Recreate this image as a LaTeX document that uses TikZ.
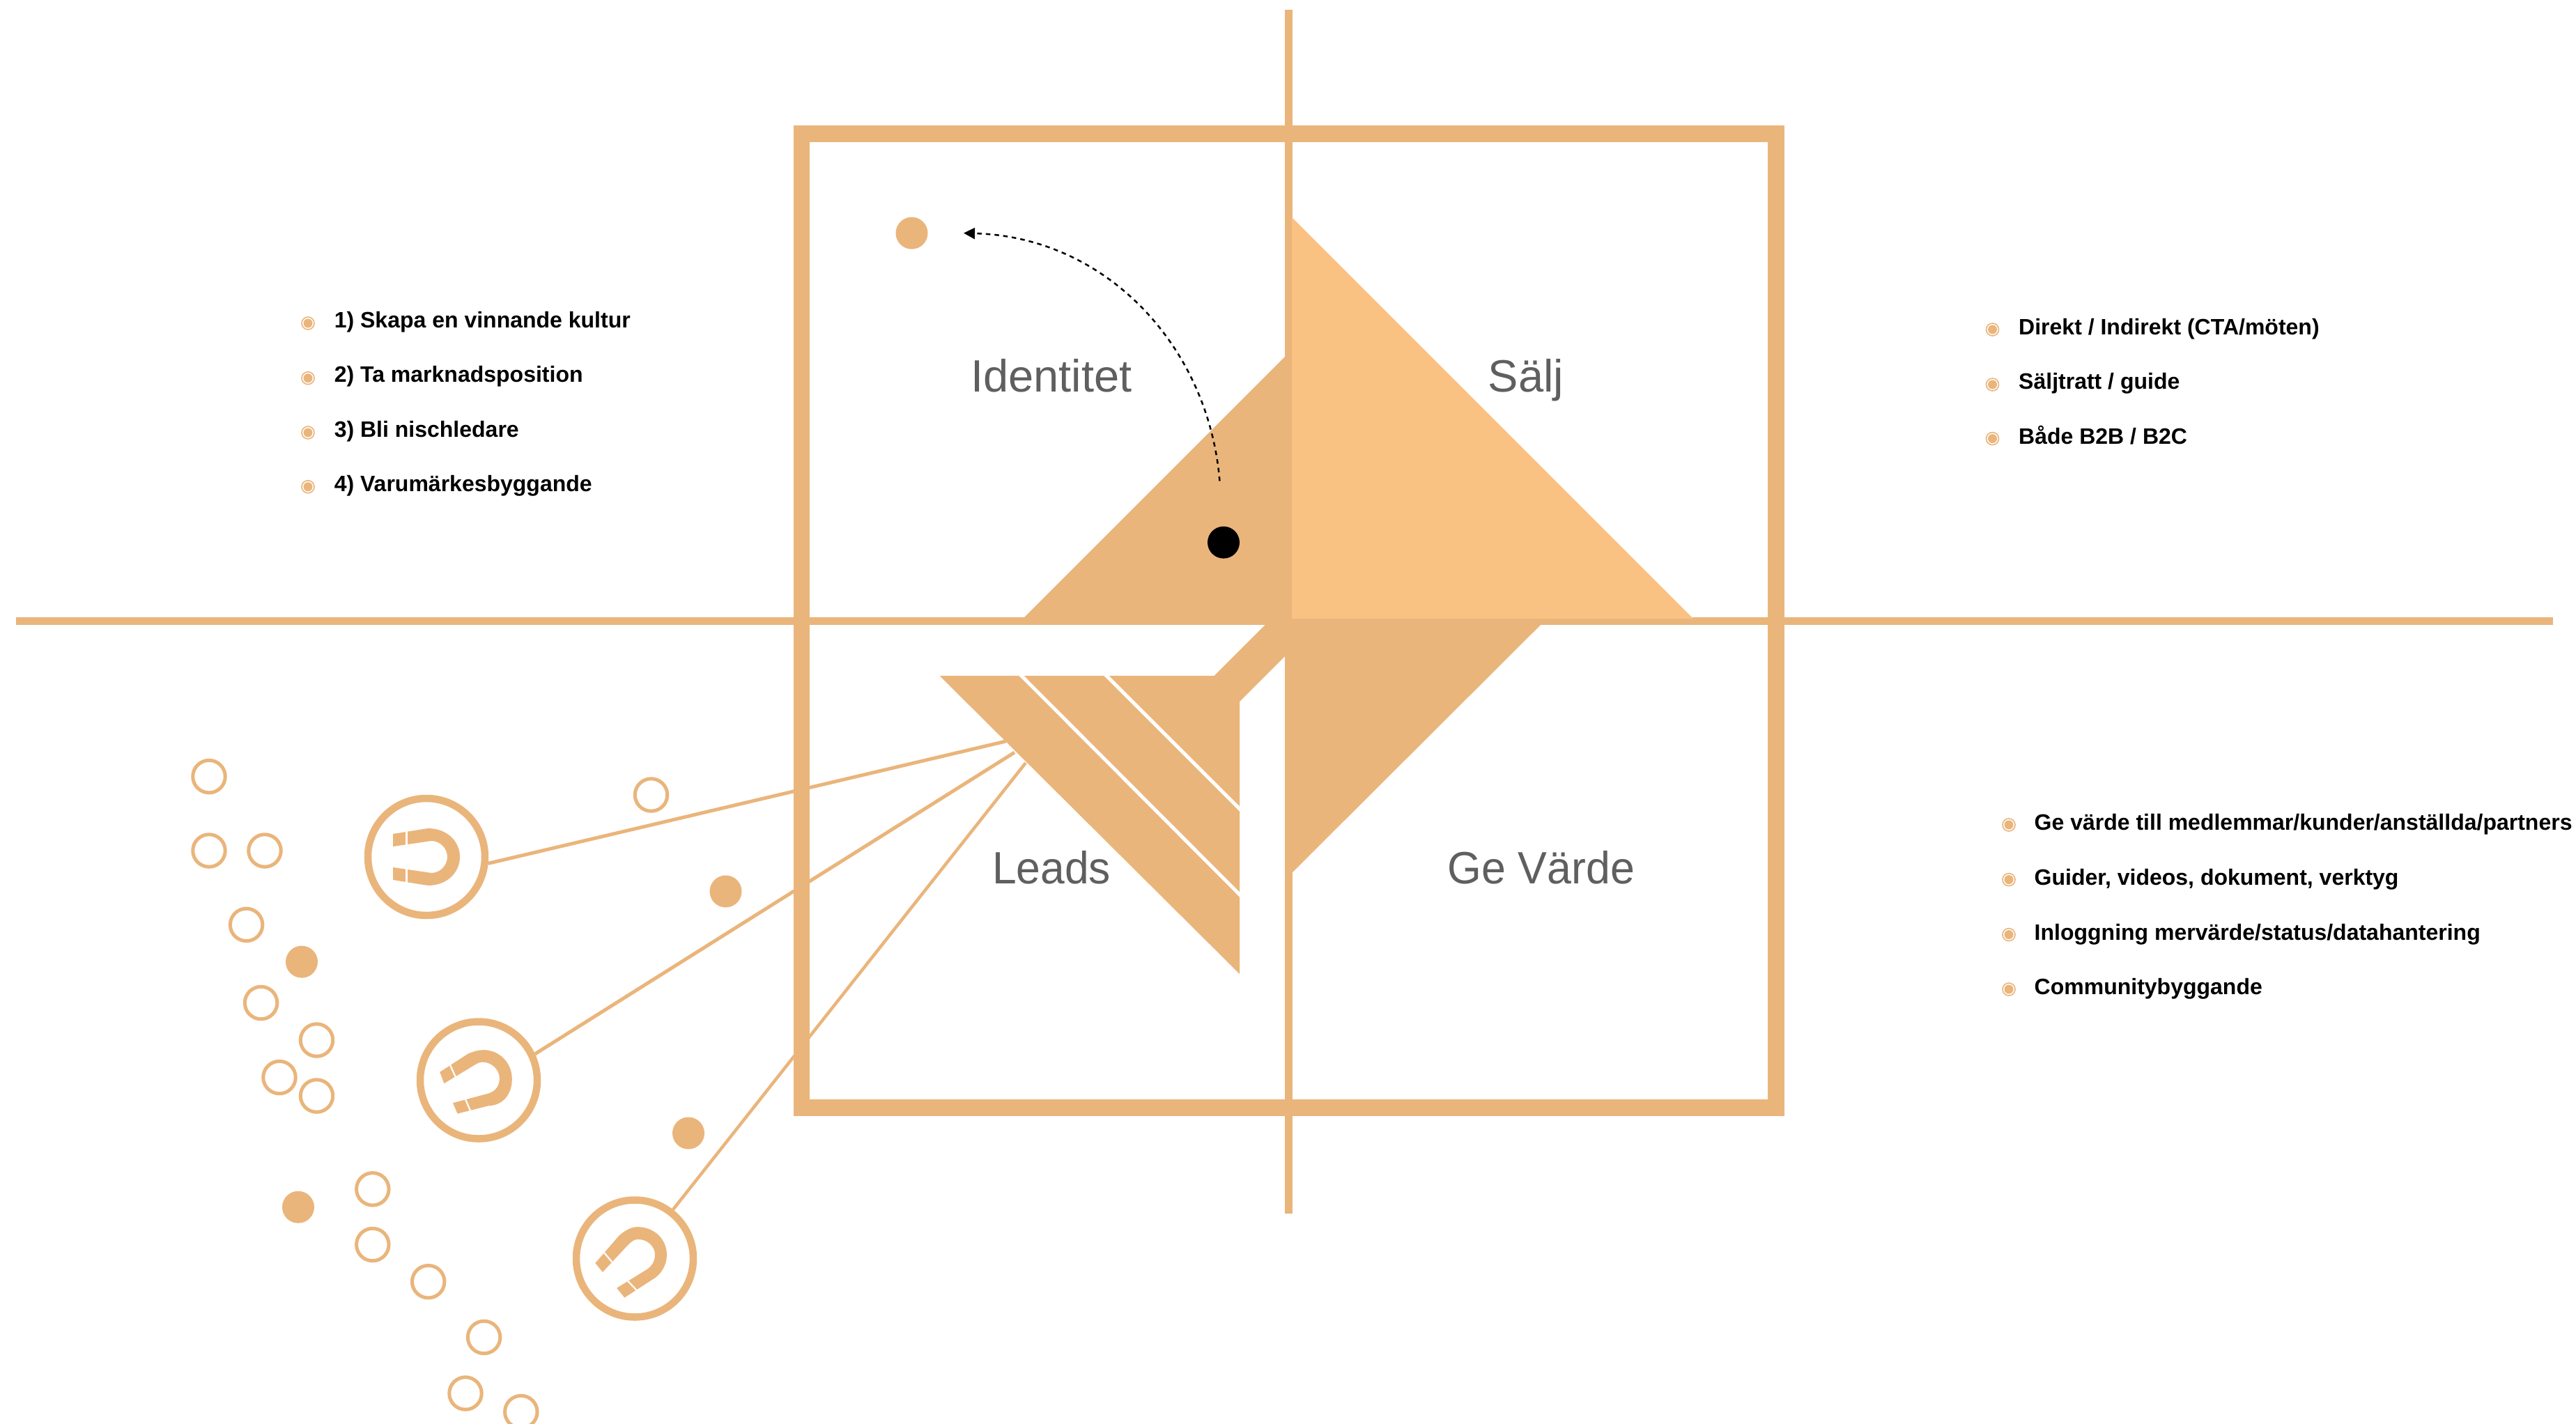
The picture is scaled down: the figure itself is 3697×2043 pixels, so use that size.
\documentclass[tikz,border=0pt]{standalone}
\usepackage{fontspec}
\usepackage{graphicx}
\setmainfont{Liberation Sans}
\usetikzlibrary{arrows.meta}
\definecolor{tan}{HTML}{EAB57B}
\definecolor{lighttan}{HTML}{F9C283}
\definecolor{labelgray}{HTML}{5F5F5F}
\tikzset{
  bar/.style={draw=tan,line width=11pt},
  frameline/.style={draw=tan,line width=23.8pt},
  leadline/.style={draw=tan,line width=5pt},
  slit/.style={draw=white,line width=5pt},
  magslit/.style={draw=white,line width=2.2pt},
  magring/.style={circle,draw=tan,line width=10.5pt,fill=white,minimum size=168pt,inner sep=0pt},
  opencirc/.style={circle,draw=tan,line width=5pt,minimum size=46.5pt,inner sep=0pt},
  soliddot/.style={circle,fill=tan,minimum size=46pt,inner sep=0pt},
  blackdot/.style={circle,fill=black,minimum size=46pt,inner sep=0pt},
  quadlabel/.style={anchor=base,text=labelgray,font=\fontsize{65}{70}\selectfont,inner sep=0pt},
  listitem/.style={anchor=base west,text=black,font=\fontsize{32}{36}\selectfont\bfseries,inner sep=0pt},
  pathdash/.style={draw=black,line width=2.5pt,dash pattern=on 6.5pt off 6pt,-{Triangle[length=16pt,width=16pt]}},
}
\newcommand{\bulletmark}[2]{%
  \draw[tan,line width=1.6pt] (#1,#2) circle[radius=9pt];
  \fill[tan] (#1,#2) circle[radius=6.5pt];
}
\begin{document}
\begin{tikzpicture}[x=1pt,y=-1pt]
\useasboundingbox (0,0) rectangle (3697,2043);
\fill[white] (0,0) rectangle (3697,2043);

% frame and axes
\draw[frameline] (1150.5,191.6) rectangle (2549,1590);
\coordinate (vt) at (1849.5,14);
\coordinate (vb) at (1849.5,1742);
\coordinate (hl) at (23,891);
\coordinate (hr) at (3664,891);
\draw[bar] (vt) -- (vb);
\draw[bar] (hl) -- (hr);

% lead lines and magnets
\coordinate (f1) at (1443.5,1064);
\coordinate (f2) at (1456,1080);
\coordinate (f3) at (1472,1095);
\node[magring] (m1) at (612,1230) {};
\node[magring] (m2) at (687,1550.5) {};
\node[magring] (m3) at (911,1806.5) {};
\draw[leadline] (m1.-6) -- (f1);
\draw[leadline] (m2.25) -- (f2);
\draw[leadline,line width=4.5pt] (m3.52) -- (f3);

% triangles
\fill[tan] (1470,886) -- (1850,506) -- (1855,506) -- (1855,896) -- (1470,896) -- cycle;
\fill[tan] (1850,885) -- (2212,885) -- (2212,896) -- (1855,1252) -- (1850,1252) -- cycle;
\fill[lighttan] (1854,312) -- (2430,888) -- (1854,888) -- cycle;

% funnel
\fill[tan] (1348.5,970) -- (1742.6,970) -- (1816.6,896) -- (1846,896) -- (1846,940) -- (1779,1007) -- (1779,1398) -- cycle;
\draw[slit] (1461,965) -- (1784,1289);
\draw[slit] (1583,965) -- (1784,1166);

% magnet 1
\begin{scope}[shift={(m1.center)}]
\fill[tan] (-48,-33) -- (2,-41) .. controls (30,-41) and (48,-22) .. (48,0)
  .. controls (48,22) and (30,41) .. (2,41) -- (-48,33) -- (-48,15) -- (7,23)
  .. controls (20,23) and (30,12) .. (30,0) .. controls (30,-12) and (20,-23) .. (7,-23)
  -- (-48,-15) -- cycle;
\draw[magslit] (-28.5,-40) -- (-28.5,-10);
\draw[magslit] (-28.5,10) -- (-28.5,40);
\end{scope}
% magnet 2
\begin{scope}[shift={(m2.center)}]
\fill[tan] (-55.8,-11.7) -- (-14.7,-38.3) .. controls (-5,-42) and (0,-43.4) .. (7.6,-43.4)
  .. controls (30,-43) and (47.8,-25) .. (47.8,-1.5) .. controls (47.8,20) and (35,36) .. (14.3,36.7)
  -- (-30.4,48) -- (-37,32.7) -- (14.3,18.9) .. controls (24,16) and (29.9,8) .. (29.9,-2.6)
  .. controls (29.9,-16) and (18,-26) .. (5.4,-26) .. controls (1,-26) and (-2,-24) .. (-5.8,-21.9)
  -- (-49.6,4.6) -- cycle;
\draw[magslit] (-42,-24) -- (-32,-2);
\draw[magslit] (-20.5,24) -- (-11,46);
\end{scope}
% magnet 3
\begin{scope}[shift={(m3.center)}]
\fill[tan] (-56.7,6.6) -- (-22.3,-33.2) .. controls (-13,-41) and (-5,-45.4) .. (4.5,-45.4)
  .. controls (28,-45) and (46,-28) .. (46,-5.1) .. controls (46,10) and (37,24) .. (24.6,30.6)
  -- (-14.7,56.1) -- (-25.9,42.3) -- (17.9,15.3) .. controls (24,11) and (29,4) .. (29,-5.1)
  .. controls (29,-18) and (18,-27.6) .. (4.5,-27.6) .. controls (-1,-27.6) and (-5,-24) .. (-8.9,-20.4)
  -- (-46,19.4) -- cycle;
\draw[magslit] (-47,-12) -- (-30,8);
\draw[magslit] (-13,29) -- (5,48);
\end{scope}

% scattered open circles
\foreach \px/\py [count=\i] in {300/1114.6,300/1221,380/1221,353.6/1327.4,374.6/1439.5,454.5/1493,401/1546.5,454.5/1573,534.8/1706.8,534.8/1786.5,614.7/1839.7,694.6/1919.5,668/2000,747.8/2026.6,934.5/1141}
  \node[opencirc] (o\i) at (\px,\py) {};
% scattered solid circles
\foreach \px/\py [count=\i] in {433/1380.6,1041.5/1279.5,988/1626.5,428/1732.7}
  \node[soliddot] (s\i) at (\px,\py) {};

% dots and dashed arrow
\node[soliddot] (od) at (1308.5,334.6) {};
\node[blackdot] (bd) at (1756,778.6) {};
\coordinate (as) at (1750.4,690.4);
\coordinate (ae) at (1383,334.6);
\draw[pathdash] (as) .. controls (1735,500) and (1590,340) .. (ae);

% quadrant labels
\node[quadlabel] (qi) at (1509,562) {Identitet};
\node[quadlabel] (qs) at (2190,562) {Sälj};
\node[quadlabel] (ql) at (1509,1268) {\scalebox{0.96}[1]{Leads}};
\node[quadlabel] (qg) at (2212,1268) {\scalebox{0.965}[1]{Ge Värde}};

% left list
\bulletmark{442}{464}\bulletmark{442}{542.7}\bulletmark{442}{621}\bulletmark{442}{698.7}
\node[listitem] (l1) at (479.6,470.3) {1) Skapa en vinnande kultur};
\node[listitem] (l2) at (479.6,548.8) {2) Ta marknadsposition};
\node[listitem] (l3) at (479.6,627) {3) Bli nischledare};
\node[listitem] (l4) at (479.6,705) {4) Varumärkesbyggande};

% right upper list
\bulletmark{2859.5}{473}\bulletmark{2859.5}{552}\bulletmark{2859.5}{629.6}
\node[listitem] (r1) at (2897,480.3) {Direkt / Indirekt (CTA/möten)};
\node[listitem] (r2) at (2897,558.8) {Säljtratt / guide};
\node[listitem] (r3) at (2897,637) {Både B2B / B2C};

% right lower list
\bulletmark{2883}{1184}\bulletmark{2883}{1262.6}\bulletmark{2883}{1341.6}\bulletmark{2883}{1420}
\node[listitem] (v1) at (2919.5,1191.6) {Ge värde till medlemmar/kunder/anställda/partners};
\node[listitem] (v2) at (2919.5,1270.3) {Guider, videos, dokument, verktyg};
\node[listitem] (v3) at (2919.5,1349) {Inloggning mervärde/status/datahantering};
\node[listitem] (v4) at (2919.5,1427) {Communitybyggande};
\end{tikzpicture}
\end{document}
